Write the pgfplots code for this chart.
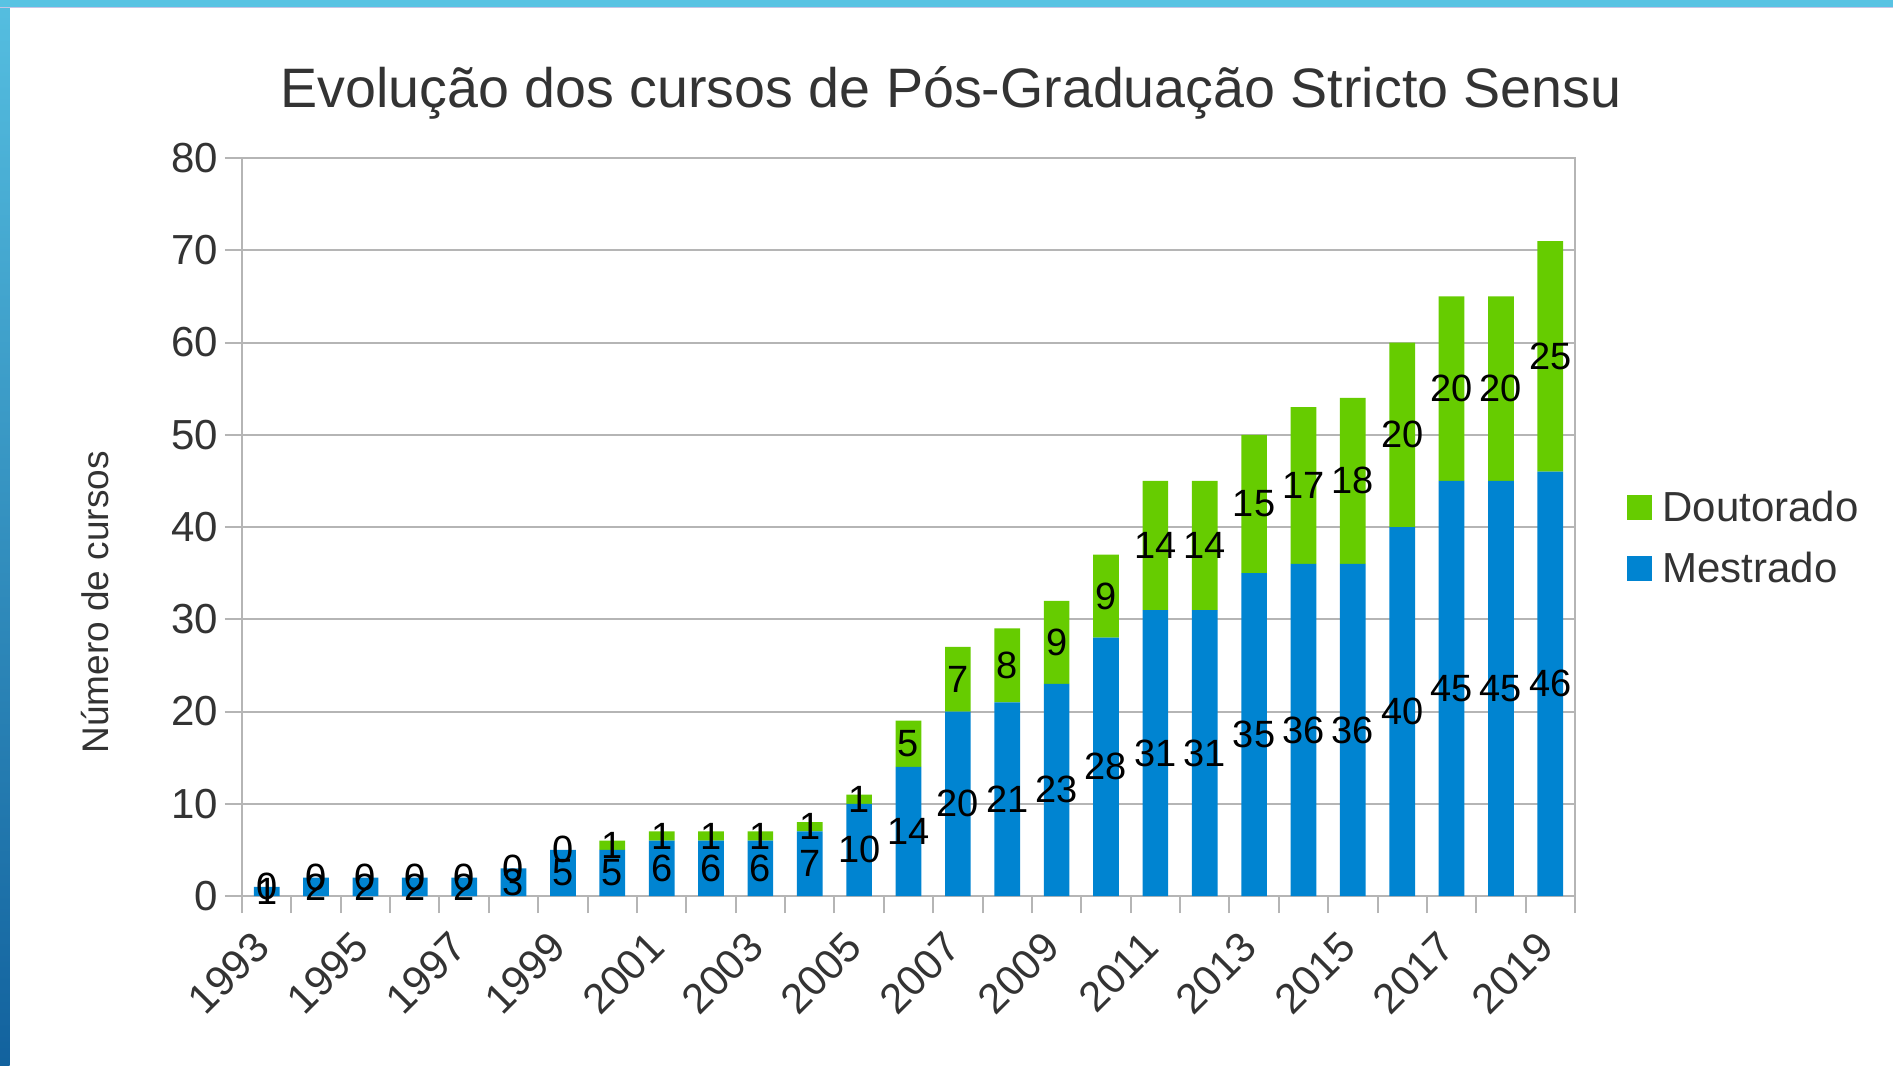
\documentclass[border=0pt]{standalone}
\usepackage{pgfplots}
\pgfplotsset{compat=1.18}
\usepackage{pgfplotstable}
\usepackage{fontspec}
\setmainfont{Liberation Sans}
\definecolor{mblue}{HTML}{0084D1}
\definecolor{dgreen}{HTML}{66CC00}
\definecolor{gridc}{HTML}{B5B5B5}
\definecolor{txt}{HTML}{333333}
\definecolor{barTop}{HTML}{58C3E3}
\definecolor{barLine}{HTML}{C4C4E6}
\definecolor{sideTop}{HTML}{55BEE0}
\definecolor{sideBot}{HTML}{12629E}

% m = Mestrado, d = Doutorado; mc, dc = centres of the two segments (label positions)
\pgfplotstableread{
x year m d mc dc
0 1993 1 0 0.5 1
1 1994 2 0 1 2
2 1995 2 0 1 2
3 1996 2 0 1 2
4 1997 2 0 1 2
5 1998 3 0 1.5 3
6 1999 5 0 2.5 5
7 2000 5 1 2.5 5.5
8 2001 6 1 3 6.5
9 2002 6 1 3 6.5
10 2003 6 1 3 6.5
11 2004 7 1 3.5 7.5
12 2005 10 1 5 10.5
13 2006 14 5 7 16.5
14 2007 20 7 10 23.5
15 2008 21 8 10.5 25
16 2009 23 9 11.5 27.5
17 2010 28 9 14 32.5
18 2011 31 14 15.5 38
19 2012 31 14 15.5 38
20 2013 35 15 17.5 42.5
21 2014 36 17 18 44.5
22 2015 36 18 18 45
23 2016 40 20 20 50
24 2017 45 20 22.5 55
25 2018 45 20 22.5 55
26 2019 46 25 23 58.5
}\data

\pgfplotsset{
  commonaxis/.style={
    at={(121pt,84.5pt)}, anchor=south west,
    scale only axis, width=666.5pt, height=369pt,
    ymin=0, ymax=80, xmin=-0.5, xmax=26.5,
    /pgf/number format/assume math mode=true,
  }
}

\begin{document}
\begin{tikzpicture}
\useasboundingbox (0,0) rectangle (946.5pt,532.5pt);
\fill[white] (0,0) rectangle (946.5pt,532.5pt);
\shade[top color=sideTop, bottom color=sideBot] (0,0) rectangle (4.75pt,532.5pt);
\fill[barLine] (0,528.5pt) rectangle (946.5pt,529.2pt);
\fill[barTop] (0,529pt) rectangle (946.5pt,532.5pt);
\node[anchor=base, font=\fontsize{27.8}{32}\selectfont, text=txt, inner sep=0pt] at (475.5pt,478.5pt) {Evolução dos cursos de Pós-Graduação Stricto Sensu};
\begin{axis}[
  commonaxis,
  ytick={0,10,...,80},
  xtick={-0.5,0.5,...,26.5},
  xticklabels={},
  extra x ticks={0,2,...,26},
  extra x tick labels={1993,1995,1997,1999,2001,2003,2005,2007,2009,2011,2013,2015,2017,2019},
  extra x tick style={major tick length=0pt, xticklabel style={rotate=45, anchor=east}},
  xticklabel shift=19.5pt,
  tick align=outside,
  major tick length=8.5pt,
  xtick pos=bottom, ytick pos=left,
  ymajorgrids,
  grid style={gridc, line width=1pt},
  axis line style={gridc, line width=1pt},
  tick style={gridc, line width=1pt},
  ticklabel style={font=\fontsize{21}{25}\selectfont, text=txt},
  ylabel={Número de cursos},
  ylabel style={at={(axis description cs:-0.1103,0.398)}, anchor=center, font=\fontsize{18.5}{22}\selectfont, text=txt},
  ybar stacked, bar width=12.85pt,
  reverse legend,
  legend cell align=left,
  legend style={draw=none, fill=none, at={(1,0.485)}, anchor=west, xshift=23pt, font=\fontsize{21}{25}\selectfont, text=txt, row sep=10pt},
  legend image code/.code={\fill[#1] (0pt,-6.25pt) rectangle (12.5pt,6.25pt); \path (15.5pt,0pt);},
]
\addplot[fill=mblue, draw=none] table[x=x, y=m] {\data};
\addlegendentry{Mestrado}
\addplot[fill=dgreen, draw=none] table[x=x, y=d] {\data};
\addlegendentry{Doutorado}
\end{axis}
\begin{axis}[
  commonaxis,
  axis lines=none, clip=false,
  nodes near coords,
  point meta=explicit,
  every node near coord/.append style={font=\fontsize{19}{22}\selectfont, text=black, anchor=center, inner sep=0pt},
]
\addplot[only marks, mark=none] table[x=x, y=mc, meta=m] {\data};
\addplot[only marks, mark=none] table[x=x, y=dc, meta=d] {\data};
\end{axis}
\end{tikzpicture}
\end{document}
